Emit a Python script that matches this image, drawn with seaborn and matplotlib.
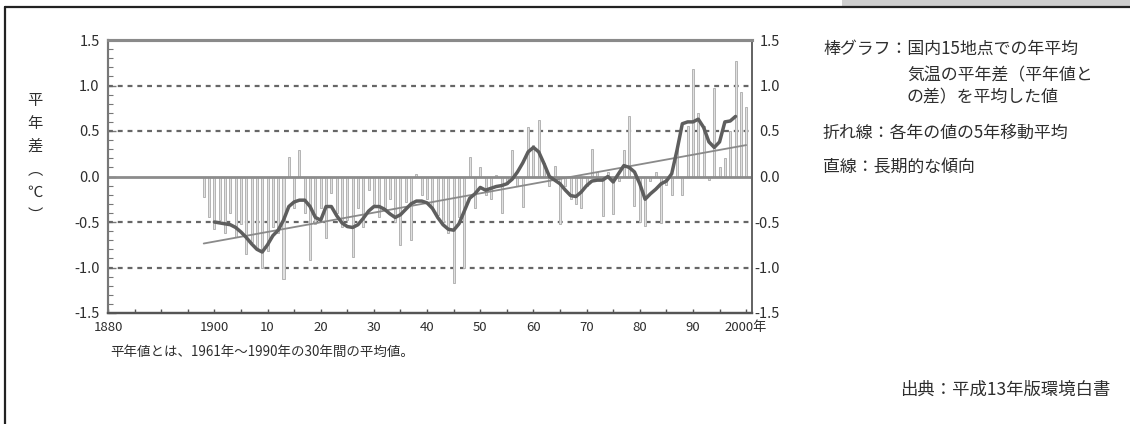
import matplotlib
matplotlib.use("Agg")
import matplotlib.pyplot as plt
from matplotlib.patches import Rectangle
from matplotlib.lines import Line2D
from matplotlib.ticker import MultipleLocator
import numpy as np
import pandas as pd
import seaborn as sns

sns.set_theme(style="white")
plt.rcParams["font.family"] = ["Noto Sans CJK JP", "DejaVu Sans"]
plt.rcParams["axes.unicode_minus"] = False

# 国内15地点の年平均気温の平年差（℃）
years = list(range(1898, 2001))
anomaly = [
    -0.22, -0.45,                                                   # 1898-1899
    -0.58, -0.48, -0.62, -0.40, -0.66, -0.52, -0.85, -0.72, -0.80, -1.00,  # 1900s
    -0.82, -0.55, -0.62, -1.13, 0.21, -0.35, 0.29, -0.40, -0.92, -0.52,    # 1910s
    -0.35, -0.68, -0.18, -0.40, -0.55, -0.48, -0.89, -0.35, -0.55, -0.15,  # 1920s
    -0.30, -0.45, -0.35, -0.25, -0.50, -0.75, -0.28, -0.70, 0.03, -0.20,   # 1930s
    -0.25, -0.35, -0.42, -0.50, -0.62, -1.17, -0.45, -1.00, 0.21, -0.35,   # 1940s
    0.10, -0.20, -0.25, 0.02, -0.40, -0.08, 0.29, -0.10, -0.33, 0.54,      # 1950s
    0.35, 0.62, 0.15, -0.10, 0.12, -0.52, -0.10, -0.25, -0.30, -0.35,      # 1960s
    -0.10, 0.30, 0.05, -0.43, 0.05, -0.41, -0.05, 0.29, 0.67, -0.32,       # 1970s
    -0.50, -0.54, -0.05, 0.05, -0.51, -0.09, -0.20, 0.30, -0.20, 0.55,     # 1980s
    1.18, 0.70, 0.55, -0.04, 0.97, 0.10, 0.20, 0.50, 1.27, 0.93,           # 1990s
    0.76,                                                            # 2000
]

# 各年の値の5年移動平均
ma_years = list(range(1900, 1999))
moving_avg = [
    -0.50, -0.51, -0.52, -0.53, -0.56, -0.61, -0.67, -0.74, -0.80, -0.83,  # 1900s
    -0.75, -0.65, -0.59, -0.48, -0.33, -0.28, -0.26, -0.26, -0.33, -0.45,  # 1910s
    -0.48, -0.33, -0.33, -0.43, -0.51, -0.55, -0.56, -0.53, -0.46, -0.38,  # 1920s
    -0.33, -0.33, -0.36, -0.41, -0.45, -0.42, -0.36, -0.30, -0.27, -0.27,  # 1930s
    -0.29, -0.35, -0.45, -0.53, -0.58, -0.59, -0.52, -0.38, -0.24, -0.19,  # 1940s
    -0.12, -0.15, -0.13, -0.11, -0.10, -0.08, -0.03, 0.05, 0.15, 0.27,     # 1950s
    0.32, 0.27, 0.14, 0.00, -0.04, -0.08, -0.15, -0.21, -0.22, -0.17,      # 1960s
    -0.10, -0.05, -0.04, -0.04, 0.00, -0.06, 0.03, 0.12, 0.10, 0.05,       # 1970s
    -0.08, -0.25, -0.19, -0.14, -0.08, -0.05, 0.03, 0.29, 0.58, 0.60,      # 1980s
    0.60, 0.63, 0.54, 0.38, 0.32, 0.38, 0.60, 0.61, 0.66,                  # 1990-1998
]

y_ticks = [1.5, 1.0, 0.5, 0.0, -0.5, -1.0, -1.5]
y_tick_labels = ["1.5", "1.0", "0.5", "0.0", "-0.5", "-1.0", "-1.5"]
x_ticks = [1880, 1900, 1910, 1920, 1930, 1940, 1950, 1960, 1970, 1980, 1990, 2000]
x_tick_labels = ["1880", "1900", "10", "20", "30", "40", "50", "60", "70", "80", "90", "2000年"]

legend_lines = [
    ("棒グラフ：国内15地点での年平均", 823, 49),
    ("気温の平年差（平年値と", 907, 75),
    ("の差）を平均した値", 907, 97),
    ("折れ線：各年の値の5年移動平均", 823, 133),
    ("直線：長期的な傾向", 823, 168),
]
note_text = "平年値とは、1961年～1990年の30年間の平均値。"
source_text = "出典：平成13年版環境白書"
ylabel_text = "平\n年\n差\n︵\n℃\n︶"

TEXT = "#2e2e2e"
W, H = 1130, 424
fig = plt.figure(figsize=(W / 100, H / 100), dpi=100)
fig.patch.set_facecolor("white")


def fx(px):
    return px / W


def fy(py):
    return 1 - py / H


ax = fig.add_axes([fx(108), fy(313), fx(752) - fx(108), fy(40) - fy(313)])
ax.set_facecolor("white")

df = pd.DataFrame({"year": years, "anomaly": anomaly})
ma_df = pd.DataFrame({"year": ma_years, "ma": moving_avg})

# reference lines
for v in y_ticks:
    if v == 0.0:
        ax.axhline(v, color="#8c8c8c", lw=2.0, zorder=3)
    elif abs(v) < 1.5:
        ax.axhline(v, color="#666666", lw=1.6, ls=(0, (2.2, 2.2)), zorder=1)

# annual anomaly bars
sns.barplot(data=df, x="year", y="anomaly", native_scale=True, width=0.38,
            color="#e0e0e0", saturation=1, edgecolor="#b4b4b4", linewidth=0.7,
            errorbar=None, ax=ax, zorder=2)

# long-term linear trend
sns.regplot(data=df, x="year", y="anomaly", scatter=False, ci=None, truncate=True,
            line_kws=dict(color="#8a8a8a", lw=1.3, zorder=4), ax=ax)

# 5-year moving average
sns.lineplot(data=ma_df, x="year", y="ma", color="#5e5e5e", lw=2.5, ax=ax, zorder=5)

ax.set_xlim(1880, 2001.1)
ax.set_ylim(-1.5, 1.5)
ax.set_xlabel("")
ax.set_ylabel("")

ax.set_xticks(x_ticks)
ax.set_xticklabels(x_tick_labels, fontsize=9.5, color=TEXT)
ax.xaxis.set_minor_locator(MultipleLocator(5))
ax.tick_params(axis="x", which="both", direction="in", length=3, width=1,
               color="#555555", bottom=True, pad=6)

ax.set_yticks(y_ticks)
ax.set_yticklabels(y_tick_labels, fontsize=10.5, color=TEXT)
ax.yaxis.set_minor_locator(MultipleLocator(0.1))
ax.tick_params(axis="y", which="major", direction="in", length=6, width=1,
               color="#777777", left=True, pad=6)
ax.tick_params(axis="y", which="minor", direction="in", length=3.5, width=0.8,
               color="#777777", left=True)

ax2 = ax.twinx()
ax2.set_ylim(-1.5, 1.5)
ax2.set_yticks(y_ticks)
ax2.set_yticklabels(y_tick_labels, fontsize=10.5, color=TEXT, ha="right")
ax2.tick_params(axis="y", which="both", length=0, pad=20)
ax2.grid(False)

for a in (ax, ax2):
    a.spines["top"].set_color("#8a8a8a")
    a.spines["top"].set_linewidth(2.2)
    a.spines["left"].set_color("#777777")
    a.spines["left"].set_linewidth(1.5)
    a.spines["right"].set_color("#666666")
    a.spines["right"].set_linewidth(1.4)
    a.spines["bottom"].set_color("#555555")
    a.spines["bottom"].set_linewidth(1.6)
ax.grid(False)

# vertical axis title
fig.text(fx(35), fy(158), ylabel_text, ha="center", va="center", fontsize=11,
         linespacing=1.45, color=TEXT)

# explanatory text
for txt, px, py in legend_lines:
    fig.text(fx(px), fy(py), txt, ha="left", va="center", fontsize=12.2, color=TEXT)
fig.text(fx(110), fy(352), note_text, ha="left", va="center", fontsize=9.7, color=TEXT)
fig.text(fx(1110), fy(390), source_text, ha="right", va="center", fontsize=12.5, color=TEXT)

# page frame
fig.add_artist(Rectangle((fx(842), fy(6)), fx(1130) - fx(842), fy(0) - fy(6),
                         transform=fig.transFigure, facecolor="#cfcfcf", edgecolor="none"))
fig.add_artist(Line2D([fx(5), fx(1130)], [fy(7), fy(7)], transform=fig.transFigure,
                      color="#222222", lw=1.6))
fig.add_artist(Line2D([fx(5), fx(5)], [fy(7), fy(424)], transform=fig.transFigure,
                      color="#222222", lw=1.6))

fig.savefig("out.png", dpi=100, facecolor="white")
